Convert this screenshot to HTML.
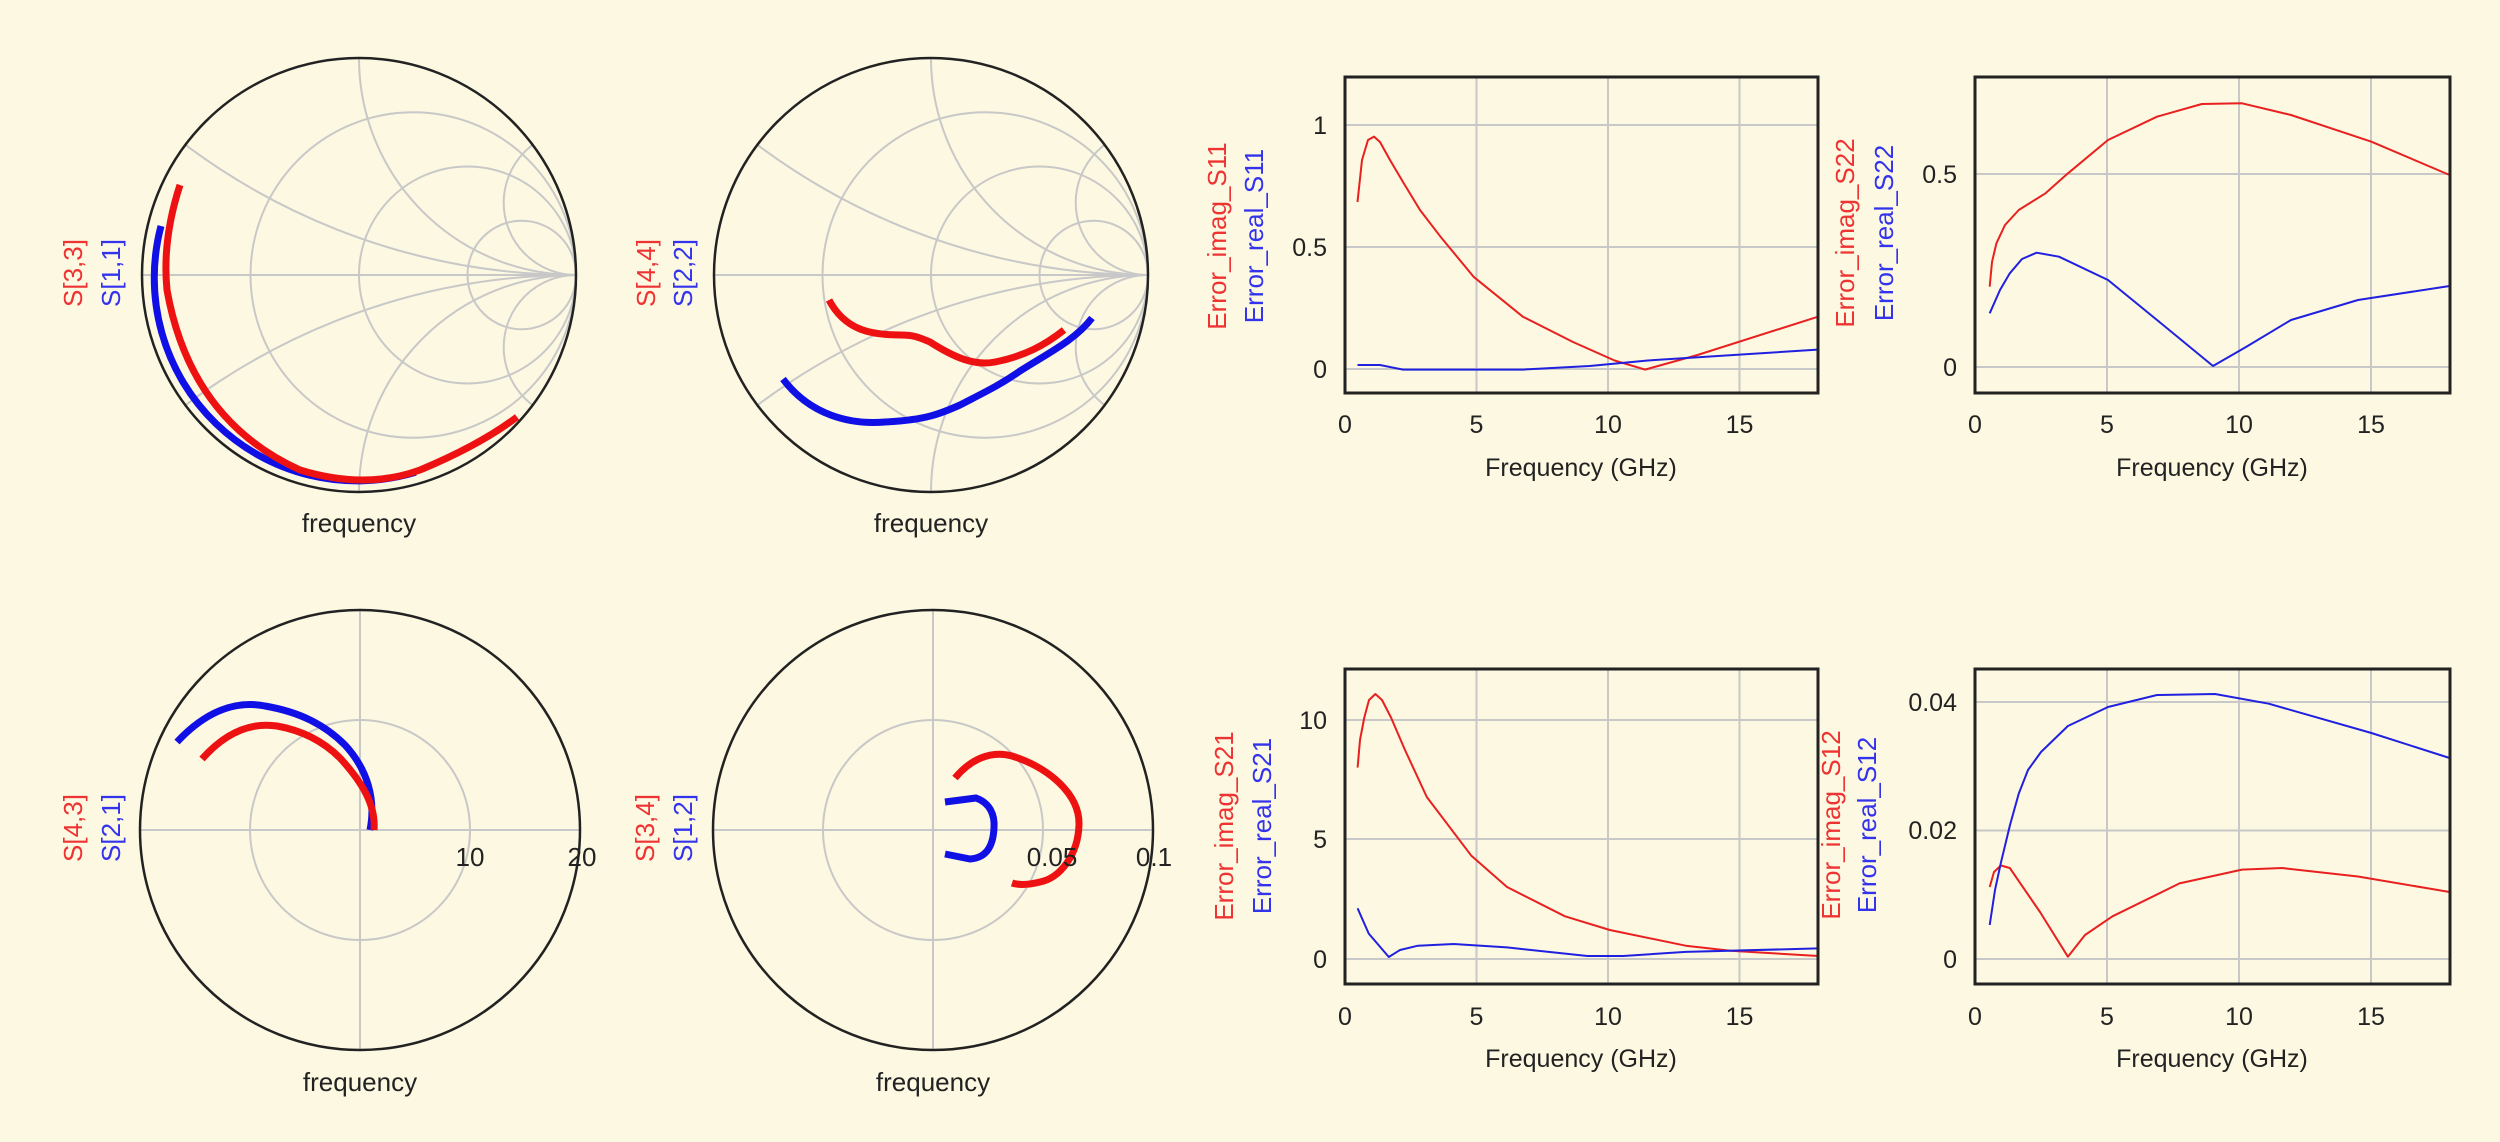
<!DOCTYPE html>
<html><head><meta charset="utf-8"><style>
html,body{margin:0;padding:0;background:#fcf8e1;width:2500px;height:1142px;overflow:hidden;}
svg{display:block;font-family:"Liberation Sans",sans-serif;}
</style></head><body>
<svg width="2500" height="1142" viewBox="0 0 2500 1142" xmlns="http://www.w3.org/2000/svg">
<rect width="2500" height="1142" fill="#fcf8e1"/>
<defs>
<clipPath id="c1"><circle cx="359" cy="275" r="217"/></clipPath>
<clipPath id="c2"><circle cx="931" cy="275" r="217"/></clipPath>
</defs>
<!-- Smith chart 1 -->
<g clip-path="url(#c1)" fill="none" stroke="#c8c8c8" stroke-width="2">
<line x1="142" y1="275" x2="576" y2="275"/>
<circle cx="413.25" cy="275" r="162.75"/>
<circle cx="467.5" cy="275" r="108.5"/>
<circle cx="521.75" cy="275" r="54.25"/>
<circle cx="576" cy="-376" r="651"/><circle cx="576" cy="926" r="651"/>
<circle cx="576" cy="58" r="217"/><circle cx="576" cy="492" r="217"/>
<circle cx="576" cy="202.7" r="72.3"/><circle cx="576" cy="347.3" r="72.3"/>
</g>
<circle cx="359" cy="275" r="217" fill="none" stroke="#222" stroke-width="2.5"/>
<path d="M161 226 A203 203 0 0 0 415.6 472.3" fill="none" stroke="#1010e6" stroke-width="7"/>
<path d="M180 185 Q162 240 167 290 Q190 420 300 470 Q365 490 420 470 Q480 445 517 417" fill="none" stroke="#ee1111" stroke-width="7"/>
<g font-size="26" text-anchor="middle">
<text transform="translate(82,273) rotate(-90)" fill="#ee3333">S[3,3]</text>
<text transform="translate(120,273) rotate(-90)" fill="#3333ee">S[1,1]</text>
<text x="359" y="532" fill="#222">frequency</text>
</g>
<!-- Smith chart 2 -->
<g clip-path="url(#c2)" fill="none" stroke="#c8c8c8" stroke-width="2">
<line x1="714" y1="275" x2="1148" y2="275"/>
<circle cx="985.25" cy="275" r="162.75"/>
<circle cx="1039.5" cy="275" r="108.5"/>
<circle cx="1093.75" cy="275" r="54.25"/>
<circle cx="1148" cy="-376" r="651"/><circle cx="1148" cy="926" r="651"/>
<circle cx="1148" cy="58" r="217"/><circle cx="1148" cy="492" r="217"/>
<circle cx="1148" cy="202.7" r="72.3"/><circle cx="1148" cy="347.3" r="72.3"/>
</g>
<circle cx="931" cy="275" r="217" fill="none" stroke="#222" stroke-width="2.5"/>
<path d="M829 300 C845 330 870 335 901 335 C915 335 920 338 930 342 C955 358 975 366 995 362 C1025 356 1045 345 1064 330" fill="none" stroke="#ee1111" stroke-width="7"/>
<path d="M783 379 C810 415 850 425 885 422 C925 420 940 414 960 405 C985 392 1000 385 1020 371 C1050 352 1075 340 1092 318" fill="none" stroke="#1010e6" stroke-width="7"/>
<g font-size="26" text-anchor="middle">
<text transform="translate(655,273) rotate(-90)" fill="#ee3333">S[4,4]</text>
<text transform="translate(692,273) rotate(-90)" fill="#3333ee">S[2,2]</text>
<text x="931" y="532" fill="#222">frequency</text>
</g>
<!-- Polar 3 -->
<g fill="none" stroke="#c8c8c8" stroke-width="2">
<line x1="140" y1="830" x2="580" y2="830"/><line x1="360" y1="610" x2="360" y2="1050"/>
<circle cx="360" cy="830" r="110"/>
<line x1="712" y1="830" x2="1152" y2="830"/><line x1="933" y1="610" x2="933" y2="1050"/>
<circle cx="933" cy="830" r="110"/>
</g>
<circle cx="360" cy="830" r="220" fill="none" stroke="#222" stroke-width="2.5"/>
<circle cx="933" cy="830" r="220" fill="none" stroke="#222" stroke-width="2.5"/>
<path d="M177 742 C205 712 235 700 265 706 C300 712 325 725 345 745 C368 770 376 800 370 830" fill="none" stroke="#1010e6" stroke-width="7"/>
<path d="M202 759 C225 733 250 722 277 726 C305 731 325 743 340 758 C362 782 376 805 374 830" fill="none" stroke="#ee1111" stroke-width="7"/>
<path d="M955 778 C970 760 990 750 1012 756 C1050 768 1080 795 1079 825 C1078 855 1060 878 1040 882 C1028 885 1018 885 1012 883" fill="none" stroke="#ee1111" stroke-width="7"/>
<path d="M945 802 L976 798 C990 803 995 815 994 828 C993 848 985 858 970 859 L945 854" fill="none" stroke="#1010e6" stroke-width="7"/>
<g font-size="26" text-anchor="middle" fill="#222">
<text x="470" y="866">10</text><text x="582" y="866">20</text>
<text x="1052" y="866">0.05</text><text x="1154" y="866">0.1</text>
<text x="360" y="1091">frequency</text><text x="933" y="1091">frequency</text>
</g>
<g font-size="26" text-anchor="middle">
<text transform="translate(82,828) rotate(-90)" fill="#ee3333">S[4,3]</text>
<text transform="translate(120,828) rotate(-90)" fill="#3333ee">S[2,1]</text>
<text transform="translate(654,828) rotate(-90)" fill="#ee3333">S[3,4]</text>
<text transform="translate(692,828) rotate(-90)" fill="#3333ee">S[1,2]</text>
</g>
<!-- Rect plots grids -->
<g stroke="#c8c8c8" stroke-width="2">
<line x1="1476.5" y1="77" x2="1476.5" y2="393"/><line x1="1608" y1="77" x2="1608" y2="393"/><line x1="1739.5" y1="77" x2="1739.5" y2="393"/>
<line x1="1345" y1="125" x2="1818" y2="125"/><line x1="1345" y1="247" x2="1818" y2="247"/><line x1="1345" y1="369" x2="1818" y2="369"/>
<line x1="2107" y1="77" x2="2107" y2="393"/><line x1="2239" y1="77" x2="2239" y2="393"/><line x1="2371" y1="77" x2="2371" y2="393"/>
<line x1="1975" y1="174" x2="2450" y2="174"/><line x1="1975" y1="367" x2="2450" y2="367"/>
<line x1="1476.5" y1="669" x2="1476.5" y2="984"/><line x1="1608" y1="669" x2="1608" y2="984"/><line x1="1739.5" y1="669" x2="1739.5" y2="984"/>
<line x1="1345" y1="720" x2="1818" y2="720"/><line x1="1345" y1="839" x2="1818" y2="839"/><line x1="1345" y1="959" x2="1818" y2="959"/>
<line x1="2107" y1="669" x2="2107" y2="984"/><line x1="2239" y1="669" x2="2239" y2="984"/><line x1="2371" y1="669" x2="2371" y2="984"/>
<line x1="1975" y1="702" x2="2450" y2="702"/><line x1="1975" y1="830.5" x2="2450" y2="830.5"/><line x1="1975" y1="959" x2="2450" y2="959"/>
</g>
<g fill="none" stroke-width="2" stroke-linejoin="round">
<polyline stroke="#e82020" points="1357.5,202 1362,160 1368,140 1374,136.6 1380,142 1390,160 1403,182 1420,210 1440.5,236.7 1473.6,276.8 1523,316.8 1573,342 1614.6,360.5 1645,369.6 1697.5,355 1817.7,316.8"/>
<polyline stroke="#2020e0" points="1357.5,365 1380,365 1403,369.6 1523,369.6 1589.7,366 1647.8,360.5 1817.7,349.6"/>
<polyline stroke="#e82020" points="1989.7,286.7 1992,262 1996.4,243.3 2005,225 2018.75,210 2045.5,193.3 2068,173.3 2108,140 2157,116.7 2201.8,104 2242,103.3 2291,115 2371.4,141.7 2449.6,175"/>
<polyline stroke="#2020e0" points="1989.7,313.3 2000,290 2009.8,273.3 2022,259 2036.6,252.7 2059,256.7 2108,280 2157,320 2213,366 2246.4,346.7 2291,320 2358,300 2449.6,286"/>
<polyline stroke="#e82020" points="1357.6,767.6 1360,740 1364.3,717.5 1369,700 1375.4,694 1382,700 1391,717.5 1405,750 1426.8,797 1471.4,855.8 1507,887 1565,916.3 1609.8,930 1685.7,945.7 1730.4,950.8 1818.3,956"/>
<polyline stroke="#2020e0" points="1357.6,908.3 1368.75,933.6 1388.8,957 1400,950 1417.9,945.7 1453.6,944 1507,947.4 1587.5,956 1623,956 1685.7,951.9 1818.3,948.4"/>
<polyline stroke="#e82020" points="1989.7,887 1994,872 2000.9,865.5 2009.8,868 2040,912 2067.9,956.7 2085,935 2112.5,916.3 2179.5,883.4 2242,869.6 2282,868 2358,876.5 2449.6,892"/>
<polyline stroke="#2020e0" points="1989.7,925 1995,890 2000.9,862.7 2010,825 2018.75,793.6 2028,770 2041,752 2067.9,726 2108,707 2157,695 2215,694 2268.75,703.7 2371.4,733 2449.6,758"/>
</g>
<g fill="none" stroke="#222" stroke-width="3">
<rect x="1345" y="77" width="473" height="316"/>
<rect x="1975" y="77" width="475" height="316"/>
<rect x="1345" y="669" width="473" height="315"/>
<rect x="1975" y="669" width="475" height="315"/>
</g>
<g font-size="25" fill="#222">
<g text-anchor="end">
<text x="1327" y="134">1</text><text x="1327" y="256">0.5</text><text x="1327" y="378">0</text>
<text x="1957" y="183">0.5</text><text x="1957" y="376">0</text>
<text x="1327" y="729">10</text><text x="1327" y="848">5</text><text x="1327" y="968">0</text>
<text x="1957" y="711">0.04</text><text x="1957" y="839">0.02</text><text x="1957" y="968">0</text>
</g>
<g text-anchor="middle">
<text x="1345" y="433">0</text><text x="1476.5" y="433">5</text><text x="1608" y="433">10</text><text x="1739.5" y="433">15</text>
<text x="1975" y="433">0</text><text x="2107" y="433">5</text><text x="2239" y="433">10</text><text x="2371" y="433">15</text>
<text x="1345" y="1025">0</text><text x="1476.5" y="1025">5</text><text x="1608" y="1025">10</text><text x="1739.5" y="1025">15</text>
<text x="1975" y="1025">0</text><text x="2107" y="1025">5</text><text x="2239" y="1025">10</text><text x="2371" y="1025">15</text>
<text x="1581" y="476">Frequency (GHz)</text><text x="2212" y="476">Frequency (GHz)</text>
<text x="1581" y="1067">Frequency (GHz)</text><text x="2212" y="1067">Frequency (GHz)</text>
</g>
</g>
<g font-size="26" text-anchor="middle">
<text transform="translate(1226,236) rotate(-90)" fill="#ee3333">Error_imag_S11</text>
<text transform="translate(1263,236) rotate(-90)" fill="#3333ee">Error_real_S11</text>
<text transform="translate(1854,233) rotate(-90)" fill="#ee3333">Error_imag_S22</text>
<text transform="translate(1893,233) rotate(-90)" fill="#3333ee">Error_real_S22</text>
<text transform="translate(1233,826) rotate(-90)" fill="#ee3333">Error_imag_S21</text>
<text transform="translate(1271,826) rotate(-90)" fill="#3333ee">Error_real_S21</text>
<text transform="translate(1840,825) rotate(-90)" fill="#ee3333">Error_imag_S12</text>
<text transform="translate(1876,825) rotate(-90)" fill="#3333ee">Error_real_S12</text>
</g>
</svg>
</body></html>
